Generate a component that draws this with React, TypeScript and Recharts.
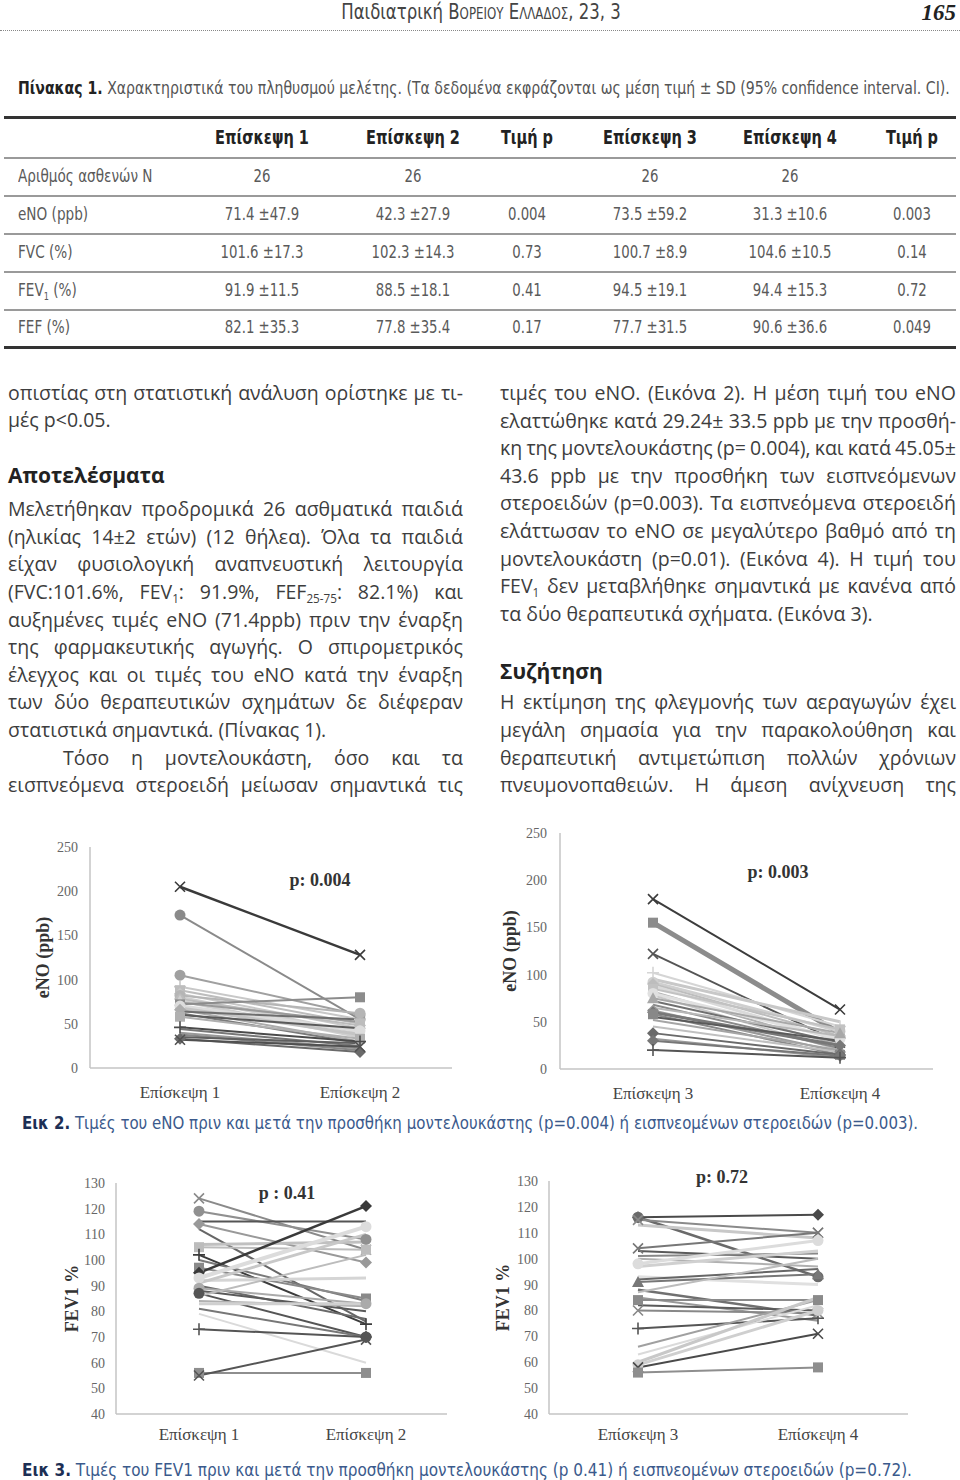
import React from "react";
import { LineChart, Line, XAxis, YAxis, Label } from "recharts";

const SANS = "'Open Sans', 'Noto Sans', sans-serif";
const NARROW = "'Liberation Sans Narrow', 'DejaVu Sans Condensed', Roboto, sans-serif";
const SERIF = "'Liberation Serif', 'DejaVu Serif', serif";

// chart categories and ticks
const visitsA = ["Επίσκεψη 1", "Επίσκεψη 2"];
const visitsB = ["Επίσκεψη 3", "Επίσκεψη 4"];
const enoTicks = [0, 50, 100, 150, 200, 250];
const fevTicks = [40, 50, 60, 70, 80, 90, 100, 110, 120, 130];

// eNO (ppb) per patient
const enoVisit1 = [205, 173, 105, 92, 88, 84, 82, 80, 78, 76, 74, 72, 70, 68, 66, 64, 62, 60, 58, 46, 44, 40, 38, 35, 33, 32];
const enoVisit2 = [128, 55, 60, 55, 50, 45, 62, 40, 48, 35, 52, 80, 42, 38, 30, 55, 28, 45, 33, 30, 25, 22, 20, 28, 18, 24];
const enoVisit3 = [180, 155, 122, 102, 95, 92, 90, 88, 85, 82, 80, 78, 75, 72, 68, 65, 62, 60, 58, 55, 52, 45, 38, 32, 30, 20];
const enoVisit4 = [63, 38, 28, 45, 50, 40, 35, 30, 42, 25, 32, 20, 38, 28, 22, 35, 18, 25, 15, 30, 20, 18, 15, 12, 14, 12];

// FEV1 % per patient
const fevVisit1 = [124, 119, 115, 114, 112, 106, 105, 102, 100, 97, 95, 93, 92, 91, 90, 89, 88, 87, 86, 84, 83, 81, 79, 73, 56, 55];
const fevVisit2 = [104, 108, 115, 99, 76, 107, 104, 75, 84, 85, 121, 113, 93, 110, 77, 83, 80, 70, 102, 82, 83, 70, 60, 70, 56, 69];
const fevVisit3 = [116, 116, 115, 113, 104, 103, 101, 100, 98, 97, 93, 92, 91, 88, 87, 85, 84, 82, 80, 73, 66, 63, 60, 59, 58, 56];
const fevVisit4 = [117, 93, 110, 108, 110, 100, 102, 97, 107, 103, 90, 96, 94, 78, 100, 76, 84, 80, 79, 77, 84, 82, 85, 80, 71, 58];

// series styles (marker, gray level, width)
const eno12Marks = "xoo+sdo-dt-so-d---s+----dx";
const eno12Grays = [58, 138, 160, 200, 189, 201, 181, 208, 188, 207, 154, 140, 220, 196, 172, 110, 122, 90, 176, 74, 119, 153, 136, 95, 106, 80];
const eno12Widths = [2.5, 2, 2, 2, 2, 2, 2, 3, 2, 3, 2, 2, 4, 3, 2, 2, 2, 2, 2, 2, 2, 2, 2, 2, 2, 2];
const eno34Marks = "xsx+-od-s-o-t---dds---d-d+";
const eno34Grays = [60, 140, 85, 213, 200, 207, 189, 218, 194, 176, 224, 200, 168, 112, 138, 184, 154, 120, 136, 90, 165, 192, 106, 153, 119, 85];
const eno34Widths = [2, 5, 2, 2, 3, 3, 2, 3, 2, 2, 3, 2, 2, 2, 2, 2, 2, 3, 2, 2, 2, 2, 2, 2, 2, 2];
const fev12Marks = "xo-d--s+-sdo---o-o-----+sx";
const fev12Grays = [138, 144, 85, 153, 102, 192, 188, 60, 122, 138, 58, 220, 213, 200, 106, 170, 90, 85, 188, 176, 208, 119, 218, 85, 142, 85];
const fev12Widths = [2, 2, 2, 2, 2, 3, 2, 2, 2, 2, 2.5, 4, 3, 3, 2, 2, 2, 2, 2, 2, 3, 2, 2, 2, 2, 2];
const fev34Marks = "dox-x---o---t---s-x+---oxs";
const fev34Grays = [74, 106, 138, 200, 119, 90, 136, 176, 220, 208, 224, 102, 119, 112, 188, 153, 138, 90, 136, 85, 160, 218, 200, 207, 74, 142];
const fev34Widths = [2, 2.5, 2, 3, 2, 2, 2, 2, 3, 3, 3, 2, 2, 2.5, 2, 2, 2, 2, 2, 2, 2, 2, 3, 3, 2, 2];

// table
const tableHeads = ["Επίσκεψη 1", "Επίσκεψη 2", "Τιμή p", "Επίσκεψη 3", "Επίσκεψη 4", "Τιμή p"];
const tableLabels = ["Αριθμός ασθενών  N", "eNO (ppb)", "FVC (%)", "FEV~1~ (%)", "FEF (%)"];
const tableCells = [
  ["26", "26", "", "26", "26", ""],
  ["71.4 ±47.9", "42.3 ±27.9", "0.004", "73.5 ±59.2", "31.3 ±10.6", "0.003"],
  ["101.6 ±17.3", "102.3 ±14.3", "0.73", "100.7 ±8.9", "104.6 ±10.5", "0.14"],
  ["91.9 ±11.5", "88.5 ±18.1", "0.41", "94.5 ±19.1", "94.4 ±15.3", "0.72"],
  ["82.1 ±35.3", "77.8 ±35.4", "0.17", "77.7 ±31.5", "90.6 ±36.6", "0.049"],
];
const colX = [262, 413, 527, 650, 790, 912];

// body text, one entry per printed line
const leftCol = [
  { t: "οπιστίας στη στατιστική ανάλυση ορίστηκε με τι-", y: 393, j: true },
  { t: "μές p<0.05.", y: 420 },
  { t: "Αποτελέσματα", y: 475, h: true },
  { t: "Μελετήθηκαν προδρομικά 26 ασθματικά παιδιά", y: 509, j: true },
  { t: "(ηλικίας 14±2 ετών) (12 θήλεα). Όλα τα παιδιά", y: 536.6, j: true },
  { t: "είχαν φυσιολογική αναπνευστική λειτουργία", y: 564, j: true },
  { t: "(FVC:101.6%, FEV~1~: 91.9%, FEF~25-75~: 82.1%) και", y: 592, j: true },
  { t: "αυξημένες τιμές eNO (71.4ppb) πριν την έναρξη", y: 619.5, j: true },
  { t: "της φαρμακευτικής αγωγής. Ο σπιρομετρικός", y: 647, j: true },
  { t: "έλεγχος και οι τιμές του eNO κατά την έναρξη", y: 675, j: true },
  { t: "των δύο θεραπευτικών σχημάτων δε διέφεραν", y: 702, j: true },
  { t: "στατιστικά σημαντικά. (Πίνακας 1).", y: 730 },
  { t: "Τόσο η μοντελουκάστη, όσο και τα", y: 757.5, j: true, ind: 55 },
  { t: "εισπνεόμενα στεροειδή μείωσαν σημαντικά τις", y: 785, j: true },
];
const rightCol = [
  { t: "τιμές του eNO. (Εικόνα 2). Η μέση τιμή του eNO", y: 393, j: true },
  { t: "ελαττώθηκε κατά 29.24± 33.5 ppb με την προσθή-", y: 420.6, j: true },
  { t: "κη της μοντελουκάστης (p= 0.004), και κατά 45.05±", y: 448, j: true },
  { t: "43.6 ppb με την προσθήκη των εισπνεόμενων", y: 476, j: true },
  { t: "στεροειδών (p=0.003). Τα εισπνεόμενα στεροειδή", y: 503, j: true },
  { t: "ελάττωσαν το eNO σε μεγαλύτερο βαθμό από τη", y: 531, j: true },
  { t: "μοντελουκάστη (p=0.01). (Εικόνα 4). Η τιμή του", y: 559, j: true },
  { t: "FEV~1~ δεν μεταβλήθηκε σημαντικά με κανένα από", y: 586, j: true },
  { t: "τα δύο θεραπευτικά σχήματα. (Εικόνα 3).", y: 614 },
  { t: "Συζήτηση", y: 671, h: true },
  { t: "Η εκτίμηση της φλεγμονής των αεραγωγών έχει", y: 702, j: true },
  { t: "μεγάλη σημασία για την παρακολούθηση και", y: 730, j: true },
  { t: "θεραπευτική αντιμετώπιση πολλών χρόνιων", y: 757.5, j: true },
  { t: "πνευμονοπαθειών. Η άμεση ανίχνευση της", y: 785, j: true },
];

const gray = (g: number) => `rgb(${g},${g},${g})`;

// "FEV~1~" -> FEV with subscript 1
const withSub = (s: string) =>
  s.split("~").map((part, i) =>
    i % 2 === 1 ? (
      <sub key={i} style={{ fontSize: "0.6em", verticalAlign: "-0.35em", lineHeight: 0 }}>{part}</sub>
    ) : (
      <React.Fragment key={i}>{part}</React.Fragment>
    )
  );

const makeDot = (kind: string, color: string) => (p: any) => {
  const { cx, cy, index } = p;
  const k = `dot-${index}`;
  if (cx == null || cy == null || kind === "-") return <g key={k} />;
  const r = 5;
  if (kind === "o") return <circle key={k} cx={cx} cy={cy} r={r + 0.5} fill={color} />;
  if (kind === "s") return <rect key={k} x={cx - r} y={cy - r} width={2 * r} height={2 * r} fill={color} />;
  if (kind === "d")
    return <path key={k} d={`M${cx},${cy - r - 1}L${cx + r + 1},${cy}L${cx},${cy + r + 1}L${cx - r - 1},${cy}Z`} fill={color} />;
  if (kind === "t")
    return <path key={k} d={`M${cx},${cy - r - 1}L${cx + r + 1},${cy + r}L${cx - r - 1},${cy + r}Z`} fill={color} />;
  if (kind === "x")
    return (
      <path key={k} d={`M${cx - r},${cy - r}L${cx + r},${cy + r}M${cx - r},${cy + r}L${cx + r},${cy - r}`}
        stroke={color} strokeWidth={1.6} fill="none" />
    );
  return (
    <path key={k} d={`M${cx - r - 1},${cy}L${cx + r + 1},${cy}M${cx},${cy - r - 1}L${cx},${cy + r + 1}`}
      stroke={color} strokeWidth={1.6} fill="none" />
  );
};

type SlopeProps = {
  left: number; top: number; width: number; height: number;
  margin: { top: number; right: number; left: number; bottom: number };
  yWidth: number; cats: string[]; before: number[]; after: number[];
  ticks: number[]; yLabel: string; labelOffset: number;
  yTickMargin: number; xTickMargin: number; padL: number; padR: number;
  marks: string; grays: number[]; widths: number[];
  pText: string; pX: number; pY: number;
};

const SlopeChart = (s: SlopeProps) => {
  const data = s.cats.map((name, i) => {
    const row: Record<string, any> = { name };
    (i === 0 ? s.before : s.after).forEach((v, j) => (row["p" + j] = v));
    return row;
  });
  const axisStroke = { stroke: "#c4c4c4", strokeWidth: 1.5 };
  return (
    <>
      <div style={{ position: "absolute", left: s.left, top: s.top }}>
        <LineChart width={s.width} height={s.height} data={data} margin={s.margin}>
          <XAxis dataKey="name" type="category" padding={{ left: s.padL, right: s.padR }}
            axisLine={axisStroke} tickLine={false} tickMargin={s.xTickMargin} height={30} interval={0}
            tick={{ fill: "#454545", fontSize: 17, fontFamily: SERIF }} />
          <YAxis type="number" domain={[s.ticks[0], s.ticks[s.ticks.length - 1]]} ticks={s.ticks}
            width={s.yWidth} axisLine={axisStroke} tickLine={false} tickMargin={s.yTickMargin} interval={0}
            tick={{ fill: "#666", fontSize: 14, fontFamily: SERIF }}>
            <Label value={s.yLabel} angle={-90} position="insideLeft" offset={s.labelOffset}
              style={{ textAnchor: "middle", fontFamily: SERIF, fontWeight: 700, fontSize: 18, fill: "#333" }} />
          </YAxis>
          {s.before.map((_, j) => (
            <Line key={j} type="linear" dataKey={"p" + j} stroke={gray(s.grays[j])} strokeWidth={s.widths[j]}
              dot={makeDot(s.marks[j], gray(s.grays[j]))} activeDot={false} isAnimationActive={false} />
          ))}
        </LineChart>
      </div>
      <div style={{ position: "absolute", left: s.pX - 60, top: s.pY - 12, width: 120, height: 24, lineHeight: "24px",
        textAlign: "center", fontFamily: SERIF, fontWeight: 700, fontSize: 18, color: "#333" }}>{s.pText}</div>
    </>
  );
};

const TextRow = ({ x, w, row }: { x: number; w: number; row: any }) => {
  const ind = row.ind || 0;
  const base: React.CSSProperties = {
    position: "absolute", left: x + ind, top: row.y - 14, width: w - ind, height: 28, lineHeight: "28px",
    fontFamily: SANS, fontSize: row.h ? 21 : 19.5, fontWeight: row.h ? 700 : 400,
    color: row.h ? "#222" : "#3d3d3d", whiteSpace: "nowrap",
  };
  if (!row.j) return <div style={base}>{withSub(row.t)}</div>;
  const words = row.t.split(" ").filter((q: string) => q.length);
  return (
    <div style={{ ...base, display: "flex", justifyContent: "space-between" }}>
      {words.map((q: string, i: number) => <span key={i}>{withSub(q)}</span>)}
    </div>
  );
};

// absolutely placed text; sx squeezes it horizontally to mimic the condensed print face
const Abs = ({ x, y, w, align, sx, style, children }: any) => (
  <div style={{ position: "absolute", left: align === "center" ? x - w / 2 : align === "right" ? x - w : x, top: y - 12,
    width: w, height: 24, lineHeight: "24px", textAlign: align || "left", whiteSpace: "nowrap",
    transform: sx ? `scaleX(${sx})` : undefined, transformOrigin: align === "center" ? "50% 50%" : align === "right" ? "100% 50%" : "0 50%",
    ...style }}>{children}</div>
);

const App = () => {
  const rowY = [176, 214, 252, 290, 327];
  const sepY = [157, 195, 233, 271, 309];
  const cell = { fontFamily: NARROW, fontSize: 18, color: "#5a5a5a" };
  return (
    <div style={{ position: "absolute", left: 0, top: 0, width: 960, height: 1480, background: "#fff", overflow: "hidden" }}>
      {/* running head */}
      <Abs x={481} y={12} w={360} align="center" sx={0.875} style={{ fontFamily: NARROW, fontSize: 21, color: "#444" }}>
        Παιδιατρική <span style={{ fontVariant: "small-caps" }}>Βορειου Ελλαδος</span>, 23, 3
      </Abs>
      <Abs x={956} y={13} w={60} align="right" style={{ fontFamily: SERIF, fontSize: 23, fontWeight: 700, fontStyle: "italic", color: "#222" }}>165</Abs>
      <div style={{ position: "absolute", left: 0, top: 30, width: 960, borderTop: "1px dotted #888" }} />

      {/* table */}
      <Abs x={18} y={88} w={1100} sx={0.87} style={{ fontFamily: NARROW, fontSize: 18, color: "#555" }}>
        <b style={{ color: "#222" }}>Πίνακας 1.</b> Χαρακτηριστικά του πληθυσμού μελέτης. (Τα δεδομένα εκφράζονται ως μέση τιμή ± SD (95% confidence interval. CI).
      </Abs>
      <div style={{ position: "absolute", left: 4, top: 116, width: 952, height: 3, background: "#333" }} />
      {tableHeads.map((h, i) => (
        <Abs key={i} x={colX[i]} y={137} w={150} align="center" sx={0.85} style={{ fontFamily: NARROW, fontSize: 19, fontWeight: 700, color: "#222" }}>{h}</Abs>
      ))}
      {sepY.map((y, i) => (
        <div key={i} style={{ position: "absolute", left: 4, top: y, width: 952, height: 1.5, background: "#9a9a9a" }} />
      ))}
      {tableLabels.map((l, r) => (
        <Abs key={r} x={18} y={rowY[r]} w={200} sx={0.84} style={cell}>{withSub(l)}</Abs>
      ))}
      {tableCells.map((row, r) =>
        row.map((c, i) => (
          <Abs key={r + "-" + i} x={colX[i]} y={rowY[r]} w={150} align="center" sx={0.82} style={cell}>{c}</Abs>
        ))
      )}
      <div style={{ position: "absolute", left: 4, top: 346, width: 952, height: 3, background: "#333" }} />

      {/* body text */}
      {leftCol.map((row, i) => <TextRow key={"l" + i} x={8} w={455} row={row} />)}
      {rightCol.map((row, i) => <TextRow key={"r" + i} x={500} w={456} row={row} />)}

      {/* Figure 2 */}
      <SlopeChart left={0} top={820} width={480} height={300} margin={{ top: 27, right: 28, left: 0, bottom: 22 }}
        yWidth={90} cats={visitsA} before={enoVisit1} after={enoVisit2} ticks={enoTicks} yLabel="eNO (ppb)"
        labelOffset={43} yTickMargin={6} xTickMargin={12} padL={90} padR={92}
        marks={eno12Marks} grays={eno12Grays} widths={eno12Widths} pText="p: 0.004" pX={320} pY={880} />
      <SlopeChart left={480} top={820} width={480} height={300} margin={{ top: 13, right: 27, left: 0, bottom: 21 }}
        yWidth={80} cats={visitsB} before={enoVisit3} after={enoVisit4} ticks={enoTicks} yLabel="eNO (ppb)"
        labelOffset={30} yTickMargin={7} xTickMargin={12} padL={93} padR={93}
        marks={eno34Marks} grays={eno34Grays} widths={eno34Widths} pText="p: 0.003" pX={778} pY={872} />
      <Abs x={22} y={1123} w={1000} sx={0.927} style={{ fontFamily: NARROW, fontSize: 18, color: "#3b5a8c" }}>
        <b style={{ color: "#1d2f55" }}>Εικ 2.</b> Τιμές του eNO πριν και μετά την προσθήκη μοντελουκάστης (p=0.004) ή εισπνεομένων στεροειδών (p=0.003).
      </Abs>

      {/* Figure 3 */}
      <SlopeChart left={0} top={1150} width={480} height={310} margin={{ top: 33, right: 33, left: 0, bottom: 16 }}
        yWidth={116} cats={visitsA} before={fevVisit1} after={fevVisit2} ticks={fevTicks} yLabel="FEV1 %"
        labelOffset={72} yTickMargin={5} xTickMargin={8} padL={83} padR={81}
        marks={fev12Marks} grays={fev12Grays} widths={fev12Widths} pText="p : 0.41" pX={287} pY={1193} />
      <SlopeChart left={480} top={1150} width={480} height={310} margin={{ top: 31, right: 52, left: 0, bottom: 16 }}
        yWidth={69} cats={visitsB} before={fevVisit3} after={fevVisit4} ticks={fevTicks} yLabel="FEV1 %"
        labelOffset={23} yTickMargin={5} xTickMargin={8} padL={89} padR={90}
        marks={fev34Marks} grays={fev34Grays} widths={fev34Widths} pText="p: 0.72" pX={722} pY={1177} />
      <Abs x={22} y={1470} w={1000} sx={0.943} style={{ fontFamily: NARROW, fontSize: 18, color: "#3b5a8c" }}>
        <b style={{ color: "#1d2f55" }}>Εικ 3.</b> Τιμές του FEV1 πριν και μετά την προσθήκη μοντελουκάστης (p 0.41) ή εισπνεομένων στεροειδών (p=0.72).
      </Abs>
    </div>
  );
};

export default App;
